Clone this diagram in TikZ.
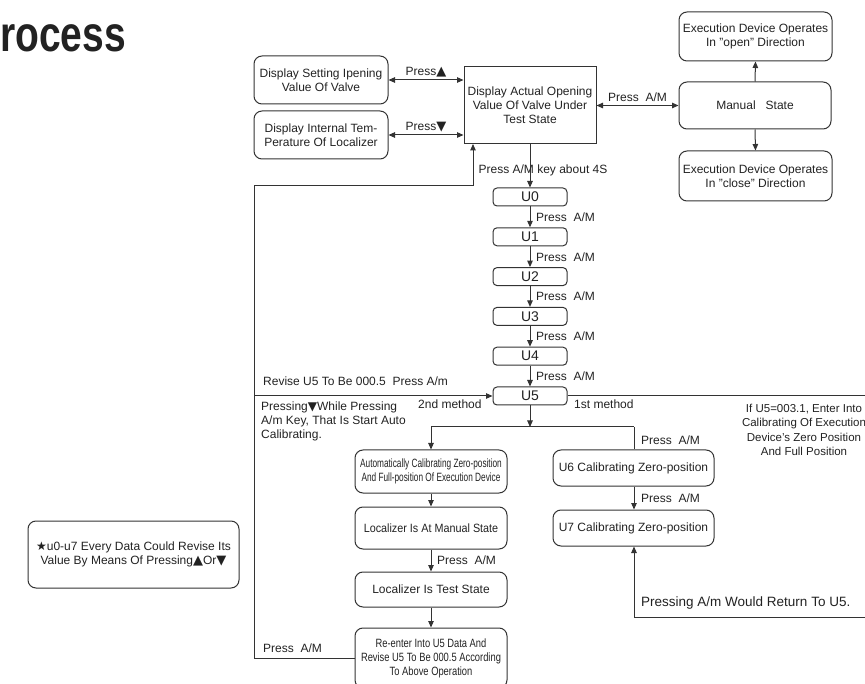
\documentclass[tikz,border=0pt]{standalone}
\usepackage{fontspec}
\setmainfont{Liberation Sans}
\newfontfamily\symf{DejaVu Sans}
\newfontfamily\narrowf{Liberation Sans}[FakeStretch=0.69]
\newfontfamily\narrowg{Liberation Sans}[FakeStretch=0.78]
\newfontfamily\narrowh{Liberation Sans}[FakeStretch=0.9]
\newfontfamily\titlef{Liberation Sans}[FakeStretch=0.78]
\usetikzlibrary{arrows.meta}
\definecolor{linec}{HTML}{333333}
\definecolor{txtc}{HTML}{222222}
\newcommand{\symup}{{\symf\fontsize{13}{14}\selectfont ▲}}
\newcommand{\symdn}{{\symf\fontsize{13}{14}\selectfont ▼}}
\tikzset{
  box/.style={draw=linec, line width=1pt, rounded corners=8pt, align=center,
    inner sep=0pt, text=txtc, font=\fontsize{12}{14}\selectfont},
  sharpbox/.style={box, rounded corners=0pt},
  ubox/.style={box, rounded corners=4pt, minimum width=74pt, minimum height=18pt,
    font=\fontsize{14}{14}\selectfont},
  lbl/.style={inner sep=1pt, text=txtc, font=\fontsize{12}{14}\selectfont},
  conn/.style={draw=linec, line width=1pt},
  arr/.style={conn, -{Triangle[length=6.5pt,width=5.5pt]}},
  darr/.style={conn, {Triangle[length=6.5pt,width=5.5pt]}-{Triangle[length=6.5pt,width=5.5pt]}}
}
\begin{document}
\begin{tikzpicture}[x=1pt,y=-1pt]
\useasboundingbox (0,0) rectangle (865,684);
\clip (0,0) rectangle (865,684);

% title
\node[anchor=base east, inner sep=0pt, text=txtc] (title) at (126,52)
  {\titlef\bfseries\fontsize{50}{50}\selectfont rocess};

% top boxes
\node[box, minimum width=134pt, minimum height=48pt] (set) at (321,80)
  {Display Setting Ipening\\Value Of Valve};
\node[box, minimum width=134pt, minimum height=48pt] (temp) at (321,135)
  {Display Internal Tem-\\Perature Of Localizer};
\node[sharpbox, minimum width=132pt, minimum height=77pt] (act) at (530,105.5)
  {Display Actual Opening\\Value Of Valve Under\\Test State};
\node[box, minimum width=152pt, minimum height=47pt] (man) at (755,105.5)
  {Manual~~~State};
\node[box, minimum width=153pt, minimum height=49pt] (open) at (755.5,36.5)
  {Execution Device Operates\\In "open" Direction};
\node[box, minimum width=153pt, minimum height=50pt] (close) at (755.5,176)
  {Execution Device Operates\\In "close" Direction};

% U chain
\node[ubox] (u0) at (530,197) {U0};
\node[ubox] (u1) at (530,236.8) {U1};
\node[ubox] (u2) at (530,276.6) {U2};
\node[ubox] (u3) at (530,316.4) {U3};
\node[ubox] (u4) at (530,356.2) {U4};
\node[ubox] (u5) at (530,396) {U5};

% lower boxes
\node[box, minimum width=152pt, minimum height=43pt] (auto) at (431,471.5)
  {\narrowf Automatically Calibrating Zero-position\\\narrowf And Full-position Of Execution Device};
\node[box, minimum width=152pt, minimum height=42pt] (lman) at (431,528)
  {\narrowh Localizer Is At Manual State};
\node[box, minimum width=152pt, minimum height=35pt] (ltest) at (431,589.5)
  {Localizer Is Test State};
\node[box, minimum width=152pt, minimum height=60pt] (reent) at (431,658)
  {\narrowg Re-enter Into U5 Data And\\\narrowg Revise U5 To Be 000.5 According\\\narrowg To Above Operation};
\node[box, minimum width=161pt, minimum height=36pt] (u6) at (633.5,468)
  {U6 Calibrating Zero-position};
\node[box, minimum width=161pt, minimum height=36pt] (u7) at (633.5,528)
  {U7 Calibrating Zero-position};
\node[box, minimum width=211pt, minimum height=67pt] (star) at (133.5,554.5)
  {{\symf\fontsize{12}{14}\selectfont ★}u0-u7 Every Data Could Revise Its\\
   Value By Means Of Pressing\symup Or\symdn};

% coordinates
\coordinate (lt) at (254,186);
\coordinate (actin) at (473,144);
\coordinate (jn) at (530,427);
\coordinate (jl) at (431,427);
\coordinate (jr) at (634,427);
\coordinate (rE) at (875,396);
\coordinate (rB) at (875,617);
\coordinate (u7in) at (634,617);

% top connectors
\draw[darr] (set.east) -- (set.east -| act.west)
  node[lbl, midway, above=1pt] (lup) {Press\symup};
\draw[darr] (temp.east) -- (temp.east -| act.west)
  node[lbl, midway, above=1pt] (ldn) {Press\symdn};
\draw[darr] (act.east) -- (man.west)
  node[lbl, midway, above=2pt] (lam) {Press~~A/M};
\draw[arr] (man.north) -- (open.south);
\draw[arr] (man.south) -- (close.north);

% main chain
\draw[arr] (act.south) -- (u0.north);
\node[lbl] (l4s) at (543,170) {Press A/M key about 4S};
\draw[arr] (u0.south) -- (u1.north);
\draw[arr] (u1.south) -- (u2.north);
\draw[arr] (u2.south) -- (u3.north);
\draw[arr] (u3.south) -- (u4.north);
\draw[arr] (u4.south) -- (u5.north);
\node[lbl, anchor=west] (l01) at (535,217) {Press~~A/M};
\node[lbl, anchor=west] (l12) at (535,256.8) {Press~~A/M};
\node[lbl, anchor=west] (l23) at (535,296.6) {Press~~A/M};
\node[lbl, anchor=west] (l34) at (535,336.4) {Press~~A/M};
\node[lbl, anchor=west] (l45) at (535,376.2) {Press~~A/M};

% left loop
\draw[arr] (reent.west) -| (lt) -- (lt -| actin) -- (actin);
\draw[arr] (lt |- u5.west) -- (u5.west);
\draw[conn] (u5.east) -- (rE);
\node[lbl, anchor=west] (lrev) at (262,381) {Revise U5 To Be 000.5~~Press A/m};
\node[lbl, anchor=west] (l2nd) at (417,404) {2nd method};
\node[lbl, anchor=west] (l1st) at (573,404) {1st method};
\node[lbl, anchor=west, align=left] (lpress) at (260,421)
  {Pressing{\symf\fontsize{12}{14}\selectfont ▼}While Pressing\\A/m Key, That Is Start Auto\\Calibrating.};
\node[lbl, align=center, font=\fontsize{11.5}{14.5}\selectfont] (lif) at (804,430)
  {If U5=003.1, Enter Into\\Calibrating Of Execution\\Device's Zero Position\\And Full Position};
\node[lbl, anchor=west] (lback) at (262,648) {Press~~A/M};

% branches below U5
\draw[arr] (u5.south) -- (jn);
\draw[conn] (jl) -- (jr);
\draw[arr] (jl) -- (auto.north);
\draw[conn] (jr) -- (u6.north -| jr);
\node[lbl, anchor=west] (l6a) at (640,440) {Press~~A/M};
\draw[arr] (auto.south) -- (lman.north);
\draw[arr] (lman.south) -- (ltest.north);
\node[lbl, anchor=west] (lman2) at (436,560) {Press~~A/M};
\draw[arr] (ltest.south) -- (reent.north);
\draw[arr] (u6.south -| jr) -- (u7.north -| jr);
\node[lbl, anchor=west] (l67) at (640,498) {Press~~A/M};
\draw[arr] (rB) -- (u7in) -- (u7.south -| u7in);
\node[lbl, anchor=west, font=\fontsize{13.5}{15}\selectfont] (lret) at (640,603)
  {Pressing A/m Would Return To U5.};
\end{tikzpicture}
\end{document}
